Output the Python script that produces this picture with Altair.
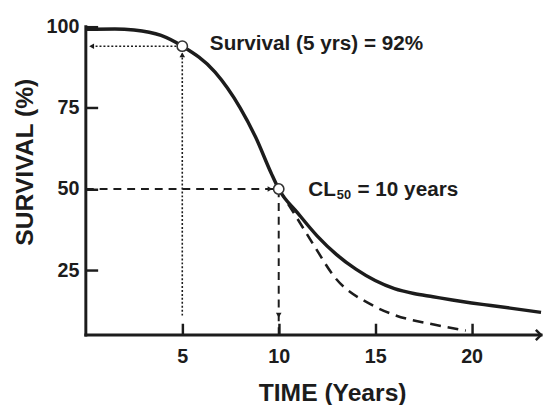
import altair as alt
import pandas as pd

# ---- data ----
solid_t = [0, 1.5, 2.5, 3.9, 5, 6.7, 8.0, 8.8, 9.6, 10, 11, 12, 13, 14, 15, 16, 17, 18, 19, 20, 21, 22, 23.6]
solid_s = [99.2, 99.3, 99, 97.3, 94, 86, 75, 66, 55, 50, 42.5, 35.5, 29.8, 25.3, 21.8, 19.3, 17.8, 16.8, 15.8, 14.9, 14.1, 13.3, 12.0]
dashed_t = [10, 10.9, 11.85, 12.84, 14.85, 16.0, 18.1, 19.7]
dashed_s = [50, 41.5, 32.4, 23.3, 14.2, 11.2, 8.2, 6.4]
marker_t = [5, 10]
marker_s = [94, 50]
x_ticks = [5, 10, 15, 20]
y_ticks = [25, 50, 75, 100]
X_MIN, X_MAX = 0, 23.6
Y_MIN, Y_MAX = 5, 100
label_survival = "Survival (5 yrs) = 92%"
label_cl = ["CL", "50", "= 10 years"]

FONT = "Liberation Sans"
INK = "#1c1c1c"

xs = alt.Scale(domain=[X_MIN, X_MAX], nice=False, zero=False)
ys = alt.Scale(domain=[Y_MIN, Y_MAX], nice=False, zero=False)

x_axis = alt.Axis(
    values=x_ticks, domain=False, grid=False, tickSize=12, offset=-12,
    tickColor=INK, tickWidth=2.5, labelFont=FONT, labelFontSize=20,
    labelFontWeight="bold", labelColor=INK, labelPadding=12,
    title="TIME (Years)", titleFont=FONT, titleFontSize=25,
    titleFontWeight="bold", titleColor=INK, titleX=250, titleY=78,
    titleBaseline="alphabetic", titleAlign="center",
)
y_axis = alt.Axis(
    values=y_ticks, domain=False, grid=False, tickSize=12, offset=-12,
    tickColor=INK, tickWidth=2.5, labelFont=FONT, labelFontSize=20,
    labelFontWeight="bold", labelColor=INK, labelPadding=7,
    title="SURVIVAL (%)", titleFont=FONT, titleFontSize=25,
    titleFontWeight="bold", titleColor=INK, titleX=-66, titleY=137,
    titleAngle=270, titleBaseline="alphabetic", titleAlign="center",
)


def X(field="t"):
    return alt.X(f"{field}:Q", scale=xs, axis=x_axis)


def Y(field="s"):
    return alt.Y(f"{field}:Q", scale=ys, axis=y_axis)


solid_df = pd.DataFrame({"t": solid_t, "s": solid_s})
dashed_df = pd.DataFrame({"t": dashed_t, "s": dashed_s})
marker_df = pd.DataFrame({"t": marker_t, "s": marker_s})

# guide lines (from the markers to the axes)
dotted_h = pd.DataFrame({"t": [0.3], "t2": [marker_t[0]], "s": [marker_s[0]]})
dotted_v = pd.DataFrame({"t": [marker_t[0]], "s": [11], "s2": [marker_s[0]]})
dashed_h = pd.DataFrame({"t": [X_MIN], "t2": [marker_t[1]], "s": [marker_s[1]]})
dashed_v = pd.DataFrame({"t": [marker_t[1]], "s": [Y_MIN], "s2": [marker_s[1]]})
arrows = pd.DataFrame({
    "t": [0.3, marker_t[0], 9.55, marker_t[1]],
    "s": [marker_s[0], 91.3, marker_s[1], 11.1],
    "shape": ["triangle-left", "triangle-up", "triangle-right", "triangle-down"],
})

y_line = alt.Chart(pd.DataFrame({"t": [X_MIN]})).mark_rule(
    color=INK, strokeWidth=3, strokeCap="square").encode(x=X())
x_line = alt.Chart(pd.DataFrame({"s": [Y_MIN]})).mark_rule(
    color=INK, strokeWidth=3, strokeCap="square").encode(y=Y())
x_arrow = alt.Chart(pd.DataFrame({"t": [X_MAX], "s": [Y_MIN]})).mark_point(
    shape="M-1,-1L0,0L-1,1", filled=False, stroke=INK, strokeWidth=2.5,
    size=110, opacity=1).encode(x=X(), y=Y())

g1 = alt.Chart(dotted_h).mark_rule(color=INK, strokeWidth=1.6, strokeDash=[2, 2]).encode(
    x=X(), x2="t2:Q", y=Y())
g2 = alt.Chart(dotted_v).mark_rule(color=INK, strokeWidth=1.6, strokeDash=[2, 2]).encode(
    x=X(), y=Y(), y2="s2:Q")
g3 = alt.Chart(dashed_h).mark_rule(color=INK, strokeWidth=2, strokeDash=[8, 6]).encode(
    x=X(), x2="t2:Q", y=Y())
g4 = alt.Chart(dashed_v).mark_rule(color=INK, strokeWidth=2, strokeDash=[8, 6]).encode(
    x=X(), y=Y(), y2="s2:Q")

heads = alt.Chart(arrows).mark_point(filled=True, color=INK, size=32, opacity=1).encode(
    x=X(), y=Y(), shape=alt.Shape("shape:N", scale=None, legend=None))

solid = alt.Chart(solid_df).mark_line(
    color=INK, strokeWidth=3.5, interpolate="monotone").encode(x=X(), y=Y())
dashed = alt.Chart(dashed_df).mark_line(
    color=INK, strokeWidth=2.6, strokeDash=[11, 7], interpolate="monotone").encode(x=X(), y=Y())

dots = alt.Chart(marker_df).mark_point(
    shape="circle", filled=True, fill="white", stroke="#333333", strokeWidth=1.6,
    size=110, opacity=1).encode(x=X(), y=Y())

p1 = pd.DataFrame({"t": [marker_t[0]], "s": [marker_s[0]], "label": [label_survival]})
p2 = pd.DataFrame({"t": [marker_t[1]], "s": [marker_s[1]], "label": [label_cl[0]]})
p3 = pd.DataFrame({"t": [marker_t[1]], "s": [marker_s[1]], "label": [label_cl[1]]})
p4 = pd.DataFrame({"t": [marker_t[1]], "s": [marker_s[1]], "label": [label_cl[2]]})


def txt(df, dx, dy, size):
    return alt.Chart(df).mark_text(
        align="left", baseline="alphabetic", dx=dx, dy=dy, font=FONT,
        fontSize=size, fontWeight="bold", color=INK).encode(x=X(), y=Y(), text="label:N")


t1 = txt(p1, 28, 4, 21)
t2 = txt(p2, 30, 7, 21)
t3 = txt(p3, 59, 10, 13)
t4 = txt(p4, 80, 7, 21)

chart = alt.layer(
    g1, g2, g3, g4, y_line, x_line, x_arrow, dashed, solid, heads, dots,
    t1, t2, t3, t4,
).properties(
    width=462, height=313, autosize="none",
    padding={"left": 79, "top": 16, "right": 2, "bottom": 68},
    background="white",
).configure_view(strokeWidth=0)

chart.save("out.html", embed_options={"renderer": "svg", "actions": False})
